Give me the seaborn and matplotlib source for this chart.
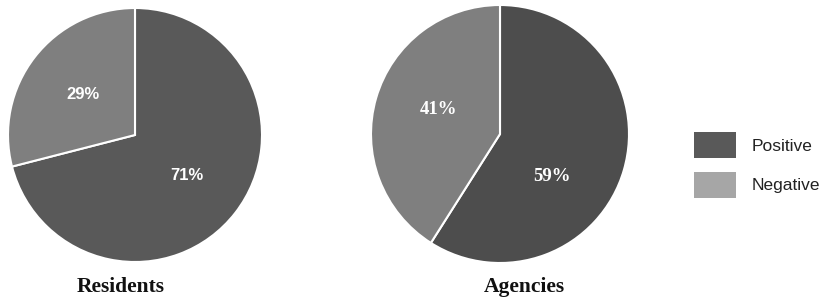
import matplotlib
matplotlib.use("Agg")
import matplotlib.pyplot as plt
import seaborn as sns
from matplotlib.patches import Patch

sns.set_theme(style="white")
plt.rcParams['font.family'] = ['Liberation Sans', 'DejaVu Sans']

categories = ["Positive", "Negative"]
residents = [71, 29]
agencies = [59, 41]
titles = ["Residents", "Agencies"]

pie_colors_res = ["#595959", "#7f7f7f"]
pie_colors_age = ["#4d4d4d", "#7f7f7f"]
legend_colors = ["#595959", "#a6a6a6"]

fig = plt.figure(figsize=(8.32, 3.0), dpi=100)
fig.patch.set_facecolor("white")

ax1 = fig.add_axes([8/832, (300-262)/300, 254/832, 254/300])
ax2 = fig.add_axes([371/832, (300-263)/300, 258/832, 258/300])

specs = [
    (ax1, residents, pie_colors_res, ['Liberation Sans', 'DejaVu Sans'], 12),
    (ax2, agencies, pie_colors_age, ['Liberation Serif', 'DejaVu Serif'], 13.5),
]
all_auto = []
for ax, vals, cols, fam, fs in specs:
    wedges, texts, autotexts = ax.pie(
        vals, colors=cols, startangle=90, counterclock=False,
        autopct=lambda p: f"{p:.0f}%", pctdistance=0.52,
        wedgeprops=dict(edgecolor="white", linewidth=1.5),
        textprops=dict(color="white", fontweight="bold", fontsize=fs, family=fam),
    )
    all_auto.append(autotexts)
    ax.set_aspect("equal")
    ax.set_xlim(-1.0, 1.0)
    ax.set_ylim(-1.0, 1.0)
    ax.axis("off")

# label placement in the agencies pie (Excel-style placement)
all_auto[1][0].set_position((0.40, -0.33))
all_auto[1][1].set_position((-0.48, 0.19))

fig.text(121/832, 1 - 287/300, titles[0], ha="center", va="center",
         fontsize=15.5, fontweight="bold", family=['Liberation Serif', 'DejaVu Serif'], color="#111111")
fig.text(524/832, 1 - 287/300, titles[1], ha="center", va="center",
         fontsize=15.5, fontweight="bold", family=['Liberation Serif', 'DejaVu Serif'], color="#111111")

handles = [Patch(facecolor=c, edgecolor="none", label=l) for c, l in zip(legend_colors, categories)]
leg = fig.legend(handles=handles, loc="center left", bbox_to_anchor=(694/832, 1 - 165/300),
                 frameon=False, fontsize=12.5, handlelength=2.41, handleheight=1.94,
                 handletextpad=0.92, labelspacing=0.78, borderpad=0, borderaxespad=0)
for t in leg.get_texts():
    t.set_color("#222222")

fig.savefig("out.png", dpi=100, facecolor="white")
